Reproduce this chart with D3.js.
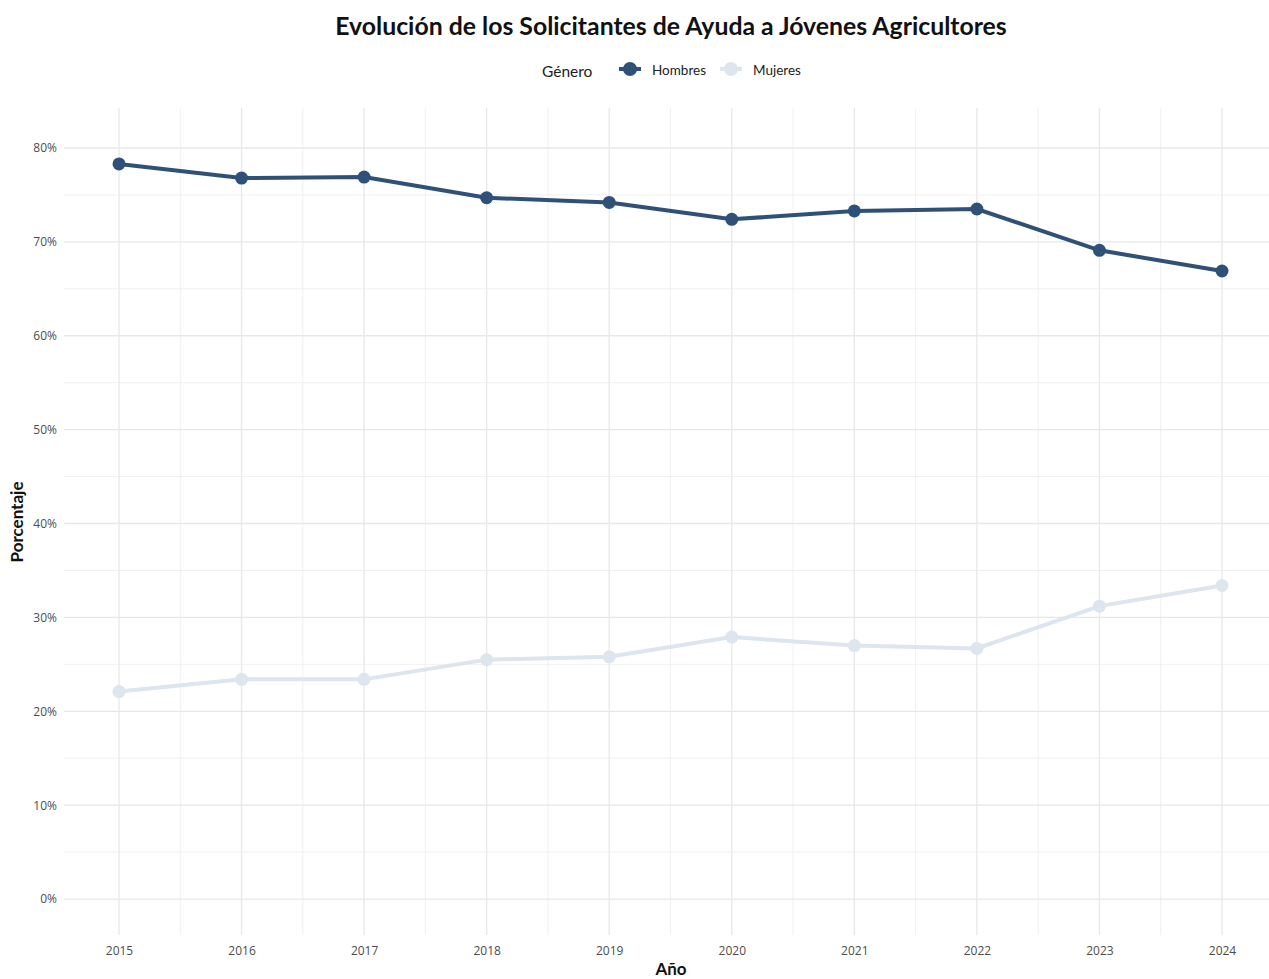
<!DOCTYPE html>
<html>
<head>
<meta charset="utf-8">
<script src="https://cdn.jsdelivr.net/npm/d3@7"></script>
<style>
  body { margin: 0; background: #fff; }
  svg text { font-family: "Lato", "Open Sans", sans-serif; }
</style>
</head>
<body>
<div class="chartWrapper"></div>
<script>
var years = [2015, 2016, 2017, 2018, 2019, 2020, 2021, 2022, 2023, 2024];
var hombres = [78.3, 76.8, 76.9, 74.7, 74.2, 72.4, 73.3, 73.5, 69.1, 66.9];
var mujeres = [22.1, 23.4, 23.4, 25.5, 25.8, 27.9, 27.0, 26.7, 31.2, 33.4];
var yTicks = [0, 10, 20, 30, 40, 50, 60, 70, 80];
var seriesNames = ['Hombres', 'Mujeres'];
var seriesColors = ['#2f5178', '#dde5ef'];

var width = 1269, height = 979;
var plot = { left: 64, right: 1277, top: 108, bottom: 935 };

var svg = d3.select('.chartWrapper')
  .append('svg')
  .attr('width', width)
  .attr('height', height);

// years land at 119 .. 1222
var xScale = d3.scaleLinear()
  .domain([2015 - 55 / 122.56, 2024 + 55 / 122.56])
  .range([plot.left, plot.right]);

var yScale = d3.scaleLinear()
  .domain([-3.83, 84.26])
  .range([plot.bottom, plot.top]);

// grid
var grid = svg.append('g').attr('class', 'grid');
var minorY = d3.range(5, 85, 10);
grid.selectAll('.minorY').data(minorY).enter().append('line')
  .attr('x1', plot.left).attr('x2', width)
  .attr('y1', function (d) { return yScale(d); })
  .attr('y2', function (d) { return yScale(d); })
  .attr('stroke', '#ececec').attr('stroke-width', 0.8);
var minorX = d3.range(2015.5, 2025, 1);
grid.selectAll('.minorX').data(minorX).enter().append('line')
  .attr('x1', function (d) { return xScale(d); })
  .attr('x2', function (d) { return xScale(d); })
  .attr('y1', plot.top).attr('y2', plot.bottom)
  .attr('stroke', '#ececec').attr('stroke-width', 0.8);
grid.selectAll('.majorY').data(yTicks).enter().append('line')
  .attr('x1', plot.left).attr('x2', width)
  .attr('y1', function (d) { return yScale(d); })
  .attr('y2', function (d) { return yScale(d); })
  .attr('stroke', '#e8e8e8').attr('stroke-width', 1.3);
grid.selectAll('.majorX').data(years).enter().append('line')
  .attr('x1', function (d) { return xScale(d); })
  .attr('x2', function (d) { return xScale(d); })
  .attr('y1', plot.top).attr('y2', plot.bottom)
  .attr('stroke', '#e8e8e8').attr('stroke-width', 1.3);

// axes (text only, like theme_minimal)
var xAxis = d3.axisBottom(xScale).tickValues(years).tickFormat(d3.format('d')).tickSize(0).tickPadding(11);
var yAxis = d3.axisLeft(yScale).tickValues(yTicks).tickFormat(function (d) { return d + '%'; }).tickSize(0).tickPadding(7);

var gx = svg.append('g').attr('transform', 'translate(0,' + plot.bottom + ')').call(xAxis);
var gy = svg.append('g').attr('transform', 'translate(' + plot.left + ',0)').call(yAxis);
[gx, gy].forEach(function (g) {
  g.select('.domain').remove();
  g.selectAll('text')
    .attr('fill', '#4d4d4d')
    .style('font-size', '12px')
    .style('font-family', '"Open Sans", sans-serif');
});

// lines and points
var seriesData = [hombres, mujeres];
var line = d3.line()
  .x(function (d, i) { return xScale(years[i]); })
  .y(function (d) { return yScale(d); });

seriesData.forEach(function (vals, s) {
  svg.append('path')
    .datum(vals)
    .attr('fill', 'none')
    .attr('stroke', seriesColors[s])
    .attr('stroke-width', 4)
    .attr('d', line);
  svg.selectAll('.pt' + s).data(vals).enter().append('circle')
    .attr('cx', function (d, i) { return xScale(years[i]); })
    .attr('cy', function (d) { return yScale(d); })
    .attr('r', 6.5)
    .attr('fill', seriesColors[s]);
});

// title
svg.append('text')
  .attr('x', 671).attr('y', 35)
  .attr('text-anchor', 'middle')
  .attr('font-weight', 'bold')
  .attr('fill', '#111')
  .style('font-size', '24.8px')
  .text('Evolución de los Solicitantes de Ayuda a Jóvenes Agricultores');

// axis titles
svg.append('text')
  .attr('x', 671).attr('y', 975)
  .attr('text-anchor', 'middle')
  .attr('font-weight', 'bold')
  .attr('fill', '#111')
  .style('font-size', '17px')
  .text('Año');
svg.append('text')
  .attr('transform', 'translate(23,522) rotate(-90)')
  .attr('text-anchor', 'middle')
  .attr('font-weight', 'bold')
  .attr('fill', '#111')
  .style('font-size', '17px')
  .text('Porcentaje');

// legend
var legend = svg.append('g');
legend.append('text')
  .attr('x', 542).attr('y', 77)
  .attr('fill', '#222')
  .style('font-size', '15.5px')
  .text('Género');
var keyX = [630, 731];
var labX = [652, 753];
seriesNames.forEach(function (name, s) {
  legend.append('line')
    .attr('x1', keyX[s] - 11).attr('x2', keyX[s] + 11)
    .attr('y1', 69).attr('y2', 69)
    .attr('stroke', seriesColors[s]).attr('stroke-width', 4);
  legend.append('circle')
    .attr('cx', keyX[s]).attr('cy', 69).attr('r', 7)
    .attr('fill', seriesColors[s]);
  legend.append('text')
    .attr('x', labX[s]).attr('y', 75)
    .attr('fill', '#222')
    .style('font-size', '13.5px')
    .text(name);
});
</script>
</body>
</html>
